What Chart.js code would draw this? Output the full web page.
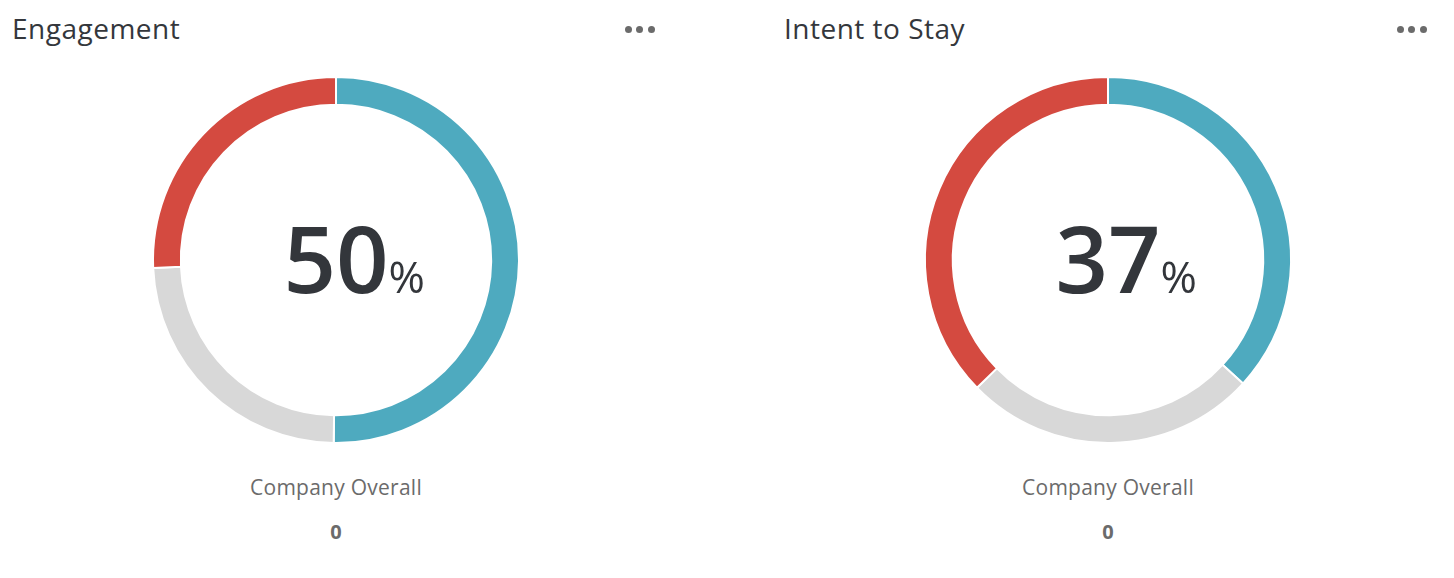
<!DOCTYPE html>
<html>
<head>
<meta charset="utf-8">
<script src="https://cdn.jsdelivr.net/npm/chart.js@4"></script>
<style>
  html, body { margin:0; padding:0; background:#fff; }
  body { width:1454px; height:578px; position:relative; overflow:hidden; font-family:"Open Sans", sans-serif; }
  .abs { position:absolute; white-space:nowrap; line-height:1; }
  .title { font-size:28px; letter-spacing:0.5px; color:#34373c; font-weight:400; }
  .dot { position:absolute; width:7px; height:7px; border-radius:50%; background:#6b6b6b; }
  .bigwrap { position:absolute; width:400px; text-align:center; line-height:1; }
  .big { position:relative; display:inline-block; font-size:92px; font-weight:600; color:#33363b; line-height:1; }
  .pct { position:absolute; left:100%; top:calc(0.888 * 92px - 0.888 * 44px); font-size:44px; font-weight:400; line-height:1; color:#33363b; }
  .sub { position:absolute; width:400px; text-align:center; line-height:1; font-size:21px; letter-spacing:0.25px; color:#6b6b6b; }
  .zero { font-weight:700; font-size:20px; letter-spacing:0; }
  canvas { position:absolute; }
</style>
</head>
<body>
<script>
// ---- data ----
const titles = ["Engagement", "Intent to Stay"];
const segmentLabels = ["Favorable", "Neutral", "Unfavorable"];
const engagementValues = [50.2, 24.1, 25.7];
const intentValues = [36.8, 25.9, 37.3];
const centerValues = ["50", "37"];
const subLabel = "Company Overall";
const subValues = ["0", "0"];
const segmentColors = ["#4eaabf", "#d8d8d8", "#d44a40"];

const panels = [
  { values: engagementValues, offset: 0 },
  { values: intentValues, offset: 772 }
];

panels.forEach((p, i) => {
  const o = p.offset;
  // title
  const t = document.createElement('div');
  t.className = 'abs title';
  t.style.left = (12 + o) + 'px';
  t.style.top = (38.5 - 0.888 * 28) + 'px';
  t.textContent = titles[i];
  document.body.appendChild(t);
  // menu dots
  [628.3, 639.7, 651.3].forEach(x => {
    const d = document.createElement('div');
    d.className = 'dot';
    d.style.left = (x + o - 3.5) + 'px';
    d.style.top = (29 - 3.5) + 'px';
    document.body.appendChild(d);
  });
  // chart canvas
  const c = document.createElement('canvas');
  c.width = 400; c.height = 400;
  c.style.width = '400px'; c.style.height = '400px';
  c.style.left = (136 + o) + 'px';
  c.style.top = '60px';
  document.body.appendChild(c);
  new Chart(c, {
    type: 'doughnut',
    data: {
      labels: segmentLabels,
      datasets: [{
        data: p.values,
        backgroundColor: segmentColors,
        borderColor: '#ffffff',
        borderWidth: 2,
        hoverOffset: 0,
        offset: 0
      }]
    },
    options: {
      responsive: false,
      animation: false,
      radius: 183,
      cutout: '84.8%',
      layout: { padding: 0 },
      plugins: { legend: { display: false }, tooltip: { enabled: false } },
      events: []
    }
  });
  // center number
  const bw = document.createElement('div');
  bw.className = 'bigwrap';
  bw.style.left = (136 + o) + 'px';
  bw.style.top = (293.3 - 0.888 * 92) + 'px';
  const big = document.createElement('span');
  big.className = 'big';
  big.textContent = centerValues[i];
  const pct = document.createElement('span');
  pct.className = 'pct';
  pct.textContent = '%';
  big.appendChild(pct);
  bw.appendChild(big);
  document.body.appendChild(bw);
  // sub label
  const s = document.createElement('div');
  s.className = 'sub';
  s.style.left = (136 + o) + 'px';
  s.style.top = (496 - 0.888 * 21) + 'px';
  s.textContent = subLabel;
  document.body.appendChild(s);
  const z = document.createElement('div');
  z.className = 'sub zero';
  z.style.left = (136 + o) + 'px';
  z.style.top = (540 - 0.888 * 20) + 'px';
  z.textContent = subValues[i];
  document.body.appendChild(z);
});
</script>
</body>
</html>
